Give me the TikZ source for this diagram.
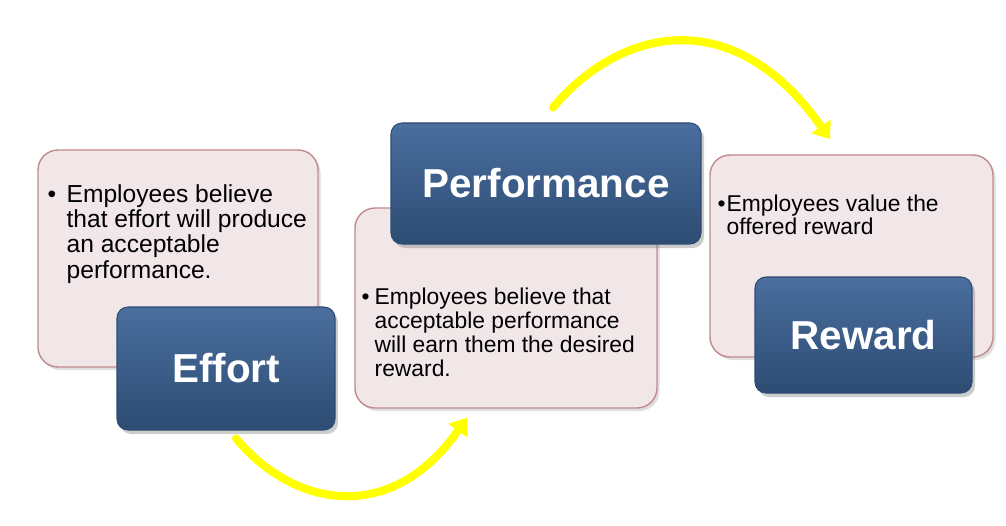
\documentclass[tikz,border=0pt]{standalone}
\usepackage{fontspec}
\setmainfont{Liberation Sans}
\usetikzlibrary{positioning,arrows.meta,shadows}
\definecolor{notefill}{HTML}{F2E7E8}
\definecolor{noteedge}{HTML}{C08A8F}
\definecolor{stagetop}{HTML}{4A6E9E}
\definecolor{stagemid}{HTML}{31537D}
\definecolor{stagebot}{HTML}{2D4C73}
\definecolor{cycleyellow}{HTML}{FFFF00}

\begin{document}
\begin{tikzpicture}[
    notebox/.style={draw=noteedge, line width=0.8pt, fill=notefill, rounded corners=0.4cm,
      drop shadow={opacity=0.25, shadow xshift=0.05cm, shadow yshift=-0.06cm}},
    stagebox/.style={draw=stagebot, line width=0.6pt, top color=stagetop, middle color=stagemid,
      bottom color=stagebot, rounded corners=0.22cm, text=white,
      font=\fontsize{23}{26}\selectfont\bfseries,
      drop shadow={opacity=0.4, shadow xshift=0.06cm, shadow yshift=-0.08cm}},
    notetext/.style={anchor=north west, inner sep=0pt, text=black},
    cyclearrow/.style={draw=cycleyellow, line width=4.6pt, line cap=round,
      -{Triangle[length=9pt, width=13pt]}}
  ]
  \useasboundingbox (0,0) rectangle (20.12,10.5);
  % text boxes
  \node[notebox, minimum width=5.6cm, minimum height=4.34cm] (effortnote) at (3.56,5.33) {};
  \node[notebox, minimum width=6.04cm, minimum height=4.0cm] (perfnote) at (10.12,4.34) {};
  \node[notebox, minimum width=5.66cm, minimum height=4.04cm] (rewardnote) at (17.03,5.38) {};
  \node[notetext, font=\fontsize{14}{14.35}\selectfont] (efforttext)
    at ([xshift=0.2cm,yshift=-0.7cm]effortnote.north west)
    {\makebox[0.38cm][l]{•}\parbox[t]{5.1cm}{\raggedright Employees believe\\that effort will produce\\an acceptable\\performance.}};
  \node[notetext, font=\fontsize{13}{13.66}\selectfont] (perftext)
    at ([xshift=0.14cm,yshift=-1.606cm]perfnote.north west)
    {\makebox[0.26cm][l]{•}\parbox[t]{5.5cm}{\raggedright Employees believe that\\acceptable performance\\will earn them the desired\\reward.}};
  \node[notetext, font=\fontsize{13}{13.04}\selectfont] (rewardtext)
    at ([xshift=0.16cm,yshift=-0.806cm]rewardnote.north west)
    {\makebox[0.18cm][l]{•}\parbox[t]{5.1cm}{\raggedright Employees value the\\offered reward}};
  % stage boxes
  \node[stagebox, minimum width=4.36cm, minimum height=2.46cm] (effort) at (4.52,3.13) {Effort};
  \node[stagebox, minimum width=6.2cm, minimum height=2.42cm] (perf) at (10.92,6.83) {Performance};
  \node[stagebox, minimum width=4.34cm, minimum height=2.32cm] (reward) at (17.27,3.8) {Reward};
  % arrows
  \coordinate (effortout) at ([xshift=0.2cm,yshift=-0.16cm]effort.south);
  \coordinate (perfin) at ([xshift=-0.78cm,yshift=-0.18cm]perfnote.south);
  \coordinate (perfout) at ([xshift=0.14cm,yshift=0.3cm]perf.north);
  \coordinate (rewardin) at ([xshift=-0.43cm,yshift=0.3cm]rewardnote.north);
  \draw[cyclearrow] (effortout) .. controls +(-50:1.81) and +(-125:2.64) .. (perfin);
  \draw[cyclearrow] (perfout) .. controls +(50:2.07) and +(125:3.38) .. (rewardin);
\end{tikzpicture}
\end{document}
